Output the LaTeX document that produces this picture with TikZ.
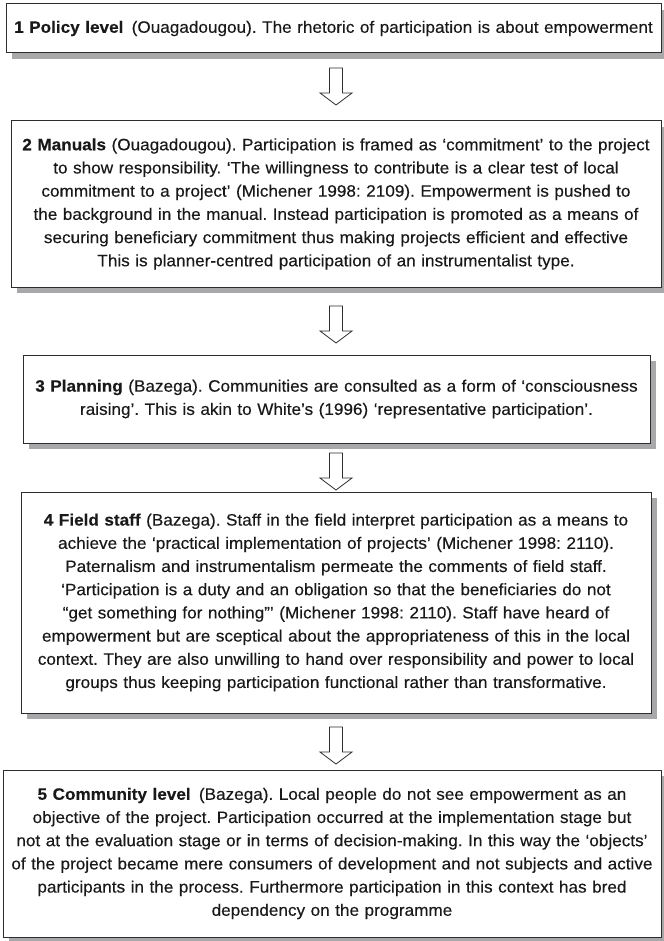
\documentclass[tikz,border=0pt]{standalone}
\usepackage{fontspec}
\setmainfont[FakeStretch=1.04,FakeBold=0.25]{Liberation Sans}
\frenchspacing
\usetikzlibrary{shadows}
\definecolor{linegray}{RGB}{45,45,45}
\definecolor{shadowgray}{RGB}{168,168,170}
\definecolor{textgray}{RGB}{25,25,25}
\tikzset{
  stagebox/.style={draw=linegray, line width=1pt, fill=white, inner sep=0pt,
    align=center, text=textgray, font=\fontsize{16.5}{23.2}\selectfont,
    drop shadow={shadow xshift=6pt, shadow yshift=-6pt, fill=shadowgray, opacity=1}},
  arrowline/.style={draw=linegray, line width=0.8pt, fill=white},
  downarrow/.pic={\path[arrowline] (-6.5,0) -- (6.5,0) -- (6.5,25) -- (16,25) -- (0,37) -- (-16,25) -- (-6.5,25) -- cycle;}
}
\begin{document}
\frenchspacing
\begin{tikzpicture}[x=1pt,y=-1pt]
\useasboundingbox[fill=white] (0,0) rectangle (663,941);

\node[stagebox, minimum width=655pt, minimum height=49pt, text width=650pt] (b1) at (333.5,28.5)
 {\textbf{1 Policy level}\enspace(Ouagadougou). The rhetoric of participation is about empowerment};

\node[stagebox, minimum width=650pt, minimum height=166pt, text width=640pt] (b2) at (336,204)
 {\textbf{2 Manuals} (Ouagadougou). Participation is framed as ‘commitment’ to the project\\
 to show responsibility. ‘The willingness to contribute is a clear test of local\\
 commitment to a project’ (Michener 1998: 2109). Empowerment is pushed to\\
 the background in the manual. Instead participation is promoted as a means of\\
 securing beneficiary commitment thus making projects efficient and effective\\
 This is planner-centred participation of an instrumentalist type.};

\node[stagebox, minimum width=627pt, minimum height=88pt, text width=617pt] (b3) at (336.5,399)
 {\textbf{3 Planning} (Bazega). Communities are consulted as a form of ‘consciousness\\
 raising’. This is akin to White’s (1996) ‘representative participation’.};

\node[stagebox, minimum width=630pt, minimum height=221pt, text width=620pt] (b4) at (336,602.5)
 {\textbf{4 Field staff} (Bazega). Staff in the field interpret participation as a means to\\
 achieve the ‘practical implementation of projects’ (Michener 1998: 2110).\\
 Paternalism and instrumentalism permeate the comments of field staff.\\
 ‘Participation is a duty and an obligation so that the beneficiaries do not\\
 “get something for nothing”’ (Michener 1998: 2110). Staff have heard of\\
 empowerment but are sceptical about the appropriateness of this in the local\\
 context. They are also unwilling to hand over responsibility and power to local\\
 groups thus keeping participation functional rather than transformative.};

\node[stagebox, minimum width=658pt, minimum height=167pt, text width=648pt] (b5) at (332,853.5)
 {\textbf{5 Community level}\enspace(Bazega). Local people do not see empowerment as an\\
 objective of the project. Participation occurred at the implementation stage but\\
 not at the evaluation stage or in terms of decision-making. In this way the ‘objects’\\
 of the project became mere consumers of development and not subjects and active\\
 participants in the process. Furthermore participation in this context has bred\\
 dependency on the programme};

\pic at (336,68) {downarrow};
\pic at (336,306) {downarrow};
\pic at (336,453) {downarrow};
\pic at (336,727) {downarrow};
\end{tikzpicture}
\end{document}
